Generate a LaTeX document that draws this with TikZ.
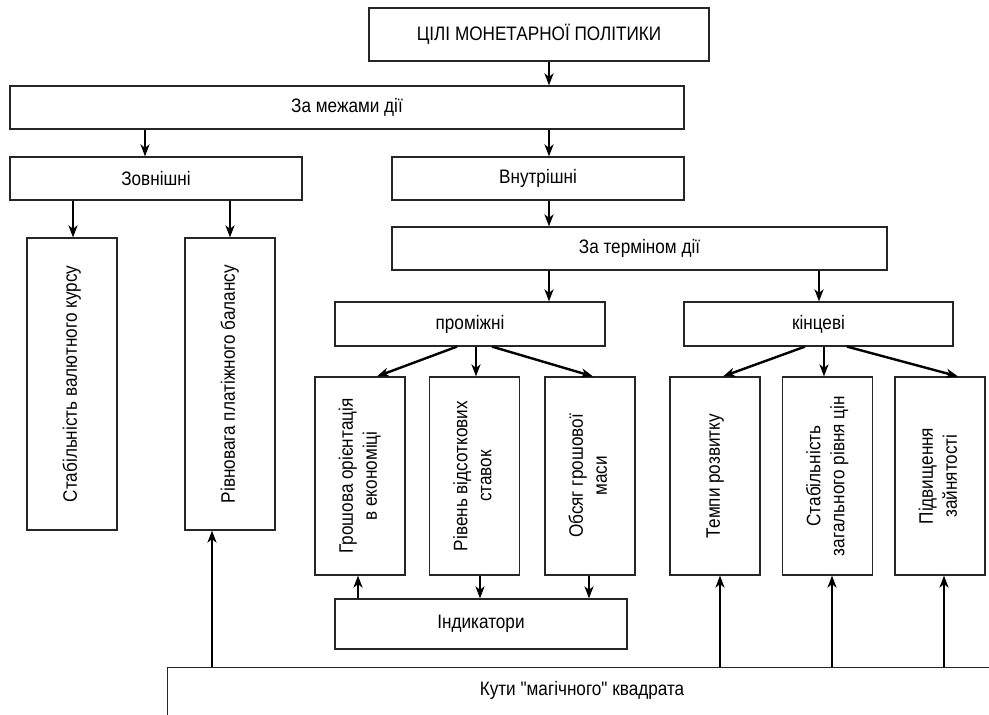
\documentclass[tikz,border=0pt]{standalone}
\usepackage{fontspec}
\setmainfont{Liberation Sans}[FakeStretch=0.88, Ligatures=TeXOff]
\usepackage{graphicx}
\usetikzlibrary{arrows.meta}

\newcommand\vtext[1]{\rotatebox{90}{\begin{tabular}{@{}c@{}}#1\end{tabular}}}

\tikzset{
  box/.style={draw=black!85, line width=1.2pt, rectangle, inner sep=2pt, align=center,
    font=\fontsize{19.5}{24}\selectfont},
  lbl/.style={inner sep=0pt, font=\fontsize{19.5}{24}\selectfont},
  arr/.style={-{Stealth[length=12pt,width=9pt,inset=3.5pt]}, line width=2.4pt}
}

\begin{document}
\begin{tikzpicture}[x=1pt,y=-1pt]
\useasboundingbox (0,0) rectangle (989,715);

\node[box, minimum width=340, minimum height=53] (goals) at (539,34.5) {ЦІЛІ МОНЕТАРНОЇ ПОЛІТИКИ};
\node[box, minimum width=674, minimum height=43] (scope) at (347,107.5) {За межами дії};

\node[box, minimum width=292, minimum height=43] (ext) at (156,178.5) {Зовнішні};
\node[box, minimum width=292, minimum height=43] (int) at (538,178.5) {Внутрішні};
\node[box, minimum width=495, minimum height=43] (term) at (639.5,248.5) {За терміном дії};

\node[box, minimum width=90, minimum height=292] (fx) at (72,384) {\vtext{Стабільність валютного курсу}};
\node[box, minimum width=90, minimum height=292] (bop) at (230,384) {\vtext{Рівновага платіжного балансу}};

\node[box, minimum width=270, minimum height=44] (mid) at (470,324) {проміжні};
\node[box, minimum width=269, minimum height=44] (fin) at (818.5,324) {кінцеві};

\node[box, minimum width=90, minimum height=198] (money) at (360,476) {\vtext{Грошова орієнтація\\в економіці}};
\node[box, minimum width=90, minimum height=198] (rate) at (474.5,476) {\vtext{Рівень відсоткових\\ставок}};
\node[box, minimum width=90, minimum height=198] (mass) at (590,476) {\vtext{Обсяг грошової\\маси}};
\node[box, minimum width=90, minimum height=198] (growth) at (715,476) {\vtext{Темпи розвитку}};
\node[box, minimum width=90, minimum height=198] (prices) at (827.5,476) {\vtext{Стабільність\\загального рівня цін}};
\node[box, minimum width=90, minimum height=198] (jobs) at (940,476) {\vtext{Підвищення\\зайнятості}};

\node[box, minimum width=292, minimum height=50] (ind) at (481,624) {Індикатори};

\node[box, minimum width=840, minimum height=100, anchor=north west] (kuty) at (167,667) {};
\node[lbl] (kutylbl) at (582,690) {Кути "магічного" квадрата};

\draw[arr] (goals.south -| 549,0) -- (scope.north -| 549,0);
\draw[arr] (scope.south -| 145,0) -- (ext.north -| 145,0);
\draw[arr] (scope.south -| 549,0) -- (int.north -| 549,0);
\draw[arr] (ext.south -| 73,0) -- (fx.north -| 73,0);
\draw[arr] (ext.south -| 230,0) -- (bop.north -| 230,0);
\draw[arr] (int.south -| 549,0) -- (term.north -| 549,0);
\draw[arr] (term.south -| 549,0) -- (mid.north -| 549,0);
\draw[arr] (term.south -| 819,0) -- (fin.north -| 819,0);

\draw[arr] (mid.south -| 457,0) -- (money.north -| 377,0);
\draw[arr] (mid.south -| 476,0) -- (rate.north -| 476,0);
\draw[arr] (mid.south -| 492,0) -- (mass.north -| 593,0);
\draw[arr] (fin.south -| 805,0) -- (growth.north -| 723,0);
\draw[arr] (fin.south -| 824,0) -- (prices.north -| 824,0);
\draw[arr] (fin.south -| 847,0) -- (jobs.north -| 958,0);

\draw[arr] (ind.north -| 358,0) -- (money.south -| 358,0);
\draw[arr] (rate.south -| 480,0) -- (ind.north -| 480,0);
\draw[arr] (mass.south -| 589,0) -- (ind.north -| 589,0);

\draw[arr] (kuty.north -| 212,0) -- (bop.south -| 212,0);
\draw[arr] (kuty.north -| 720,0) -- (growth.south -| 720,0);
\draw[arr] (kuty.north -| 832,0) -- (prices.south -| 832,0);
\draw[arr] (kuty.north -| 944,0) -- (jobs.south -| 944,0);
\end{tikzpicture}
\end{document}
